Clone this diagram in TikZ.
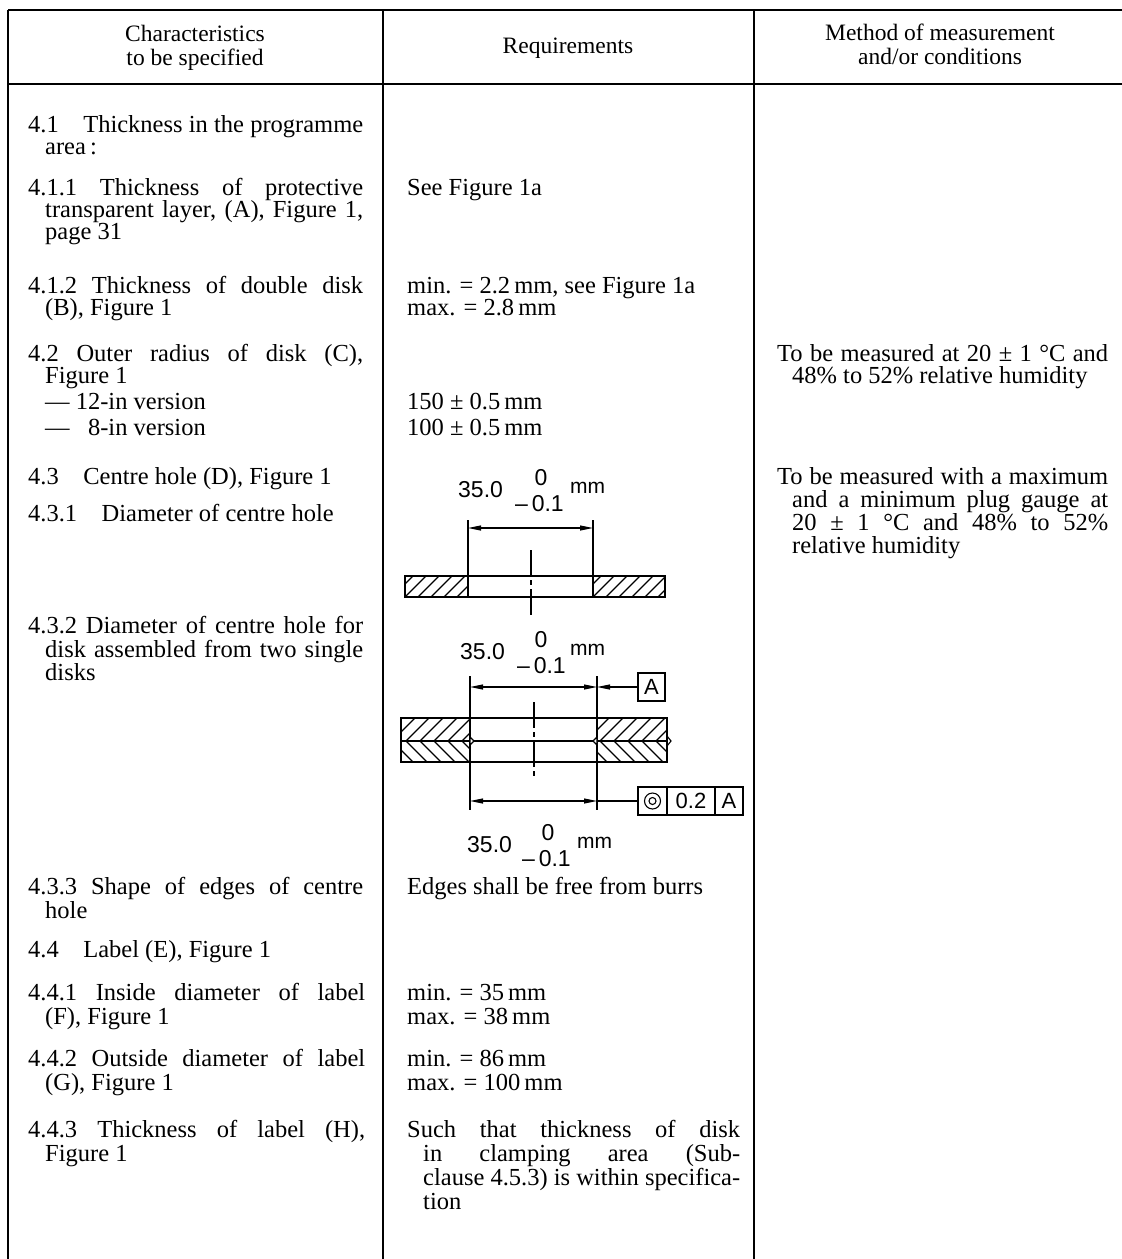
\documentclass[tikz,border=0pt]{standalone}
\usepackage{fontspec}
\setmainfont{Liberation Serif}
\newfontfamily\figfont{Liberation Sans}
\usetikzlibrary{arrows.meta}
\newcommand{\jl}[2]{\makebox[#1pt][s]{#2}}
\begin{document}
\begin{tikzpicture}[x=1pt,y=-1pt,
  txt/.style={anchor=base west, inner sep=0pt, font=\fontsize{24.5}{27}\selectfont},
  hdr/.style={anchor=base, inner sep=0pt, font=\fontsize{23.5}{26}\selectfont},
  rule/.style={line width=1.5pt},
  fig/.style={line width=1.3pt},
  thin/.style={line width=1.1pt},
  hatch/.style={line width=1.1pt},
  cline/.style={line width=1.1pt, dash pattern=on 26pt off 4pt on 5pt off 4pt},
  dim/.style={line width=1.1pt, {Triangle[length=13pt,width=5pt]}-{Triangle[length=13pt,width=5pt]}},
  lead/.style={line width=1.1pt, -{Triangle[length=13pt,width=5pt]}},
  ftxt/.style={inner sep=0pt, font=\fontsize{23}{26}\figfont},
  fbase/.style={ftxt, anchor=base west},
  mmtxt/.style={inner sep=0pt, anchor=base west, font=\fontsize{21}{24}\figfont},
  fbox/.style={draw, line width=1.2pt, inner sep=0pt, outer sep=0pt, minimum height=28pt, font=\fontsize{22}{24}\figfont}
]
\useasboundingbox (0,0) rectangle (1122,1259);

% ---------------- table rules ----------------
\draw[rule] (8,10) -- (1122,10);
\draw[rule] (8,84) -- (1122,84);
\draw[rule] (8,10) -- (8,1259);
\draw[rule] (383,10) -- (383,1259);
\draw[rule] (754,10) -- (754,1259);

% ---------------- header ----------------
\node[hdr] (h1a) at (195,41) {Characteristics};
\node[hdr] (h1b) at (195,65) {to be specified};
\node[hdr] (h2) at (568,53) {Requirements};
\node[hdr] (h3a) at (940,40) {Method of measurement};
\node[hdr] (h3b) at (940,64) {and/or conditions};

% ---------------- column 1 ----------------
\node[txt] (a1)  at (28,132)  {\jl{335}{4.1\quad Thickness in the programme}};
\node[txt] (a2)  at (45,154)  {area\,:};
\node[txt] (a3)  at (28,195)  {\jl{335}{4.1.1 Thickness of protective}};
\node[txt] (a4)  at (45,217)  {\jl{318}{transparent layer, (A), Figure 1,}};
\node[txt] (a5)  at (45,239)  {page 31};
\node[txt] (a6)  at (28,293)  {\jl{335}{4.1.2 Thickness of double disk}};
\node[txt] (a7)  at (45,315)  {(B), Figure 1};
\node[txt] (a8)  at (28,361)  {\jl{335}{4.2 Outer radius of disk (C),}};
\node[txt] (a9)  at (45,383)  {Figure 1};
\node[txt] (a10) at (45,409)  {— 12-in version};
\node[txt] (a11) at (45,435)  {—\ \phantom{1}8-in version};
\node[txt] (a12) at (28,484)  {4.3\quad Centre hole (D), Figure 1};
\node[txt] (a13) at (28,521)  {4.3.1\quad Diameter of centre hole};
\node[txt] (a14) at (28,633)  {\jl{335}{4.3.2 Diameter of centre hole for}};
\node[txt] (a15) at (45,657)  {\jl{318}{disk assembled from two single}};
\node[txt] (a16) at (45,680)  {disks};
\node[txt] (a17) at (28,894)  {\jl{335}{4.3.3 Shape of edges of centre}};
\node[txt] (a18) at (45,918)  {hole};
\node[txt] (a19) at (28,957)  {4.4\quad Label (E), Figure 1};
\node[txt] (a20) at (28,1000) {\jl{337}{4.4.1 Inside diameter of label}};
\node[txt] (a21) at (45,1024) {(F), Figure 1};
\node[txt] (a22) at (28,1066) {\jl{337}{4.4.2 Outside diameter of label}};
\node[txt] (a23) at (45,1090) {(G), Figure 1};
\node[txt] (a24) at (28,1137) {\jl{337}{4.4.3 Thickness of label (H),}};
\node[txt] (a25) at (45,1161) {Figure 1};

% ---------------- column 2 ----------------
\node[txt] (b1)  at (407,195)  {See Figure 1a};
\node[txt] (b2)  at (407,293)  {min. = 2.2\,mm, see Figure 1a};
\node[txt] (b3)  at (407,315)  {max. = 2.8\,mm};
\node[txt] (b4)  at (407,409)  {150 ± 0.5\,mm};
\node[txt] (b5)  at (407,435)  {100 ± 0.5\,mm};
\node[txt] (b6)  at (407,894)  {Edges shall be free from burrs};
\node[txt] (b7)  at (407,1000) {min. = 35\,mm};
\node[txt] (b8)  at (407,1024) {max. = 38\,mm};
\node[txt] (b9)  at (407,1066) {min. = 86\,mm};
\node[txt] (b10) at (407,1090) {max. = 100\,mm};
\node[txt] (b11) at (407,1137) {\jl{333}{Such that thickness of disk}};
\node[txt] (b12) at (423,1161) {\jl{317}{in clamping area (Sub-}};
\node[txt] (b13) at (423,1185) {\jl{317}{clause 4.5.3) is within specifica-}};
\node[txt] (b14) at (423,1209) {tion};

% ---------------- column 3 ----------------
\node[txt] (c1) at (777,361) {\jl{331}{To be measured at 20 ± 1 °C and}};
\node[txt] (c2) at (792,383) {48\% to 52\% relative humidity};
\node[txt] (c3) at (777,484) {\jl{331}{To be measured with a maximum}};
\node[txt] (c4) at (792,507) {\jl{316}{and a minimum plug gauge at}};
\node[txt] (c5) at (792,530) {\jl{316}{20 ± 1 °C and 48\% to 52\%}};
\node[txt] (c6) at (792,553) {relative humidity};

% ================= Figure: single disk =================
\node[fbase] (t1a) at (458,497) {35.0};
\node[ftxt, anchor=base] (t1b) at (541,485) {0};
\node[fbase] (t1c) at (515,511) {\textendash\,0.1};
\node[mmtxt] (t1d) at (570,493) {mm};

\coordinate (p1L) at (468,528);
\coordinate (p1R) at (593,528);
\draw[thin] (468,520) -- (468,576);
\draw[thin] (593,520) -- (593,576);
\draw[dim] (p1L) -- (p1R);
\begin{scope}
  \clip (405,576) rectangle (468,597);
  \foreach \i in {0,...,7} \draw[hatch] (392+\i*13,597) -- ++(21,-21);
\end{scope}
\begin{scope}
  \clip (593,576) rectangle (665,597);
  \foreach \i in {0,...,8} \draw[hatch] (580+\i*13,597) -- ++(21,-21);
\end{scope}
\draw[fig] (405,576) rectangle (665,597);
\draw[fig] (468,576) -- (468,597);
\draw[fig] (593,576) -- (593,597);
\draw[cline] (531,550) -- (531,618);

% ================= Figure: double disk =================
\node[fbase] (t2a) at (460,659) {35.0};
\node[ftxt, anchor=base] (t2b) at (541,647) {0};
\node[fbase] (t2c) at (517,673) {\textendash\,0.1};
\node[mmtxt] (t2d) at (570,655) {mm};

\node[fbox, minimum width=27pt] (dA) at (651.5,687) {A};
\coordinate (p2L) at (470,687);
\coordinate (p2R) at (597,687);
\draw[thin] (470,676) -- (470,718);
\draw[thin] (597,676) -- (597,718);
\draw[dim] (p2L) -- (p2R);
\draw[lead] (dA.west) -- (p2R);

% hatching, upper disk "/" and lower disk "\"
\begin{scope}
  \clip (401,718) rectangle (470,741);
  \foreach \i in {0,...,7} \draw[hatch] (392+\i*14,741) -- ++(23,-23);
\end{scope}
\begin{scope}
  \clip (401,741) rectangle (470,762);
  \foreach \i in {0,...,7} \draw[hatch] (392+\i*14,741) -- ++(21,21);
\end{scope}
\begin{scope}
  \clip (597,718) rectangle (667,741);
  \foreach \i in {0,...,7} \draw[hatch] (586+\i*14,741) -- ++(23,-23);
\end{scope}
\begin{scope}
  \clip (597,741) rectangle (667,762);
  \foreach \i in {0,...,7} \draw[hatch] (586+\i*14,741) -- ++(21,21);
\end{scope}
\draw[fig] (401,718) rectangle (667,762);
\draw[fig] (401,741) -- (667,741);
\draw[fig] (470,718) -- (470,762);
\draw[fig] (597,718) -- (597,762);
\draw[thin, fill=white] (470,737) -- (474,741) -- (470,745) -- cycle;
\draw[thin, fill=white] (597,737) -- (593,741) -- (597,745) -- cycle;
\draw[thin] (667,736) -- (671,741) -- (667,746);
\draw[cline] (534,702) -- (534,778);

% lower dimension and feature control frame
\draw[thin] (470,762) -- (470,810);
\draw[thin] (597,762) -- (597,810);
\coordinate (p3L) at (470,801);
\coordinate (p3R) at (597,801);
\draw[dim] (p3L) -- (p3R);
\node[fbox, minimum width=29pt] (fc1) at (652.5,801) {};
\node[fbox, minimum width=48pt, anchor=west] (fc2) at (fc1.east) {0.2};
\node[fbox, minimum width=28pt, anchor=west] (fc3) at (fc2.east) {A};
\draw[line width=1.1pt] (fc1.center) circle (8pt);
\draw[line width=1.1pt] (fc1.center) circle (3.5pt);
\draw[thin] (p3R) -- (fc1.west);

\node[fbase] (t3a) at (467,852) {35.0};
\node[ftxt, anchor=base] (t3b) at (548,840) {0};
\node[fbase] (t3c) at (522,866) {\textendash\,0.1};
\node[mmtxt] (t3d) at (577,848) {mm};
\end{tikzpicture}
\end{document}
